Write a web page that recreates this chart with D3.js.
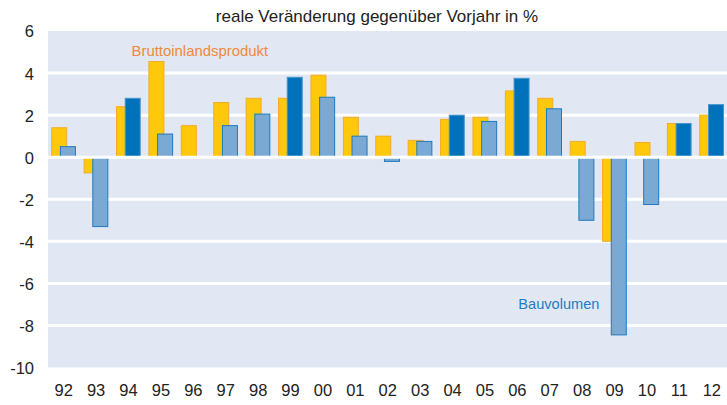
<!DOCTYPE html>
<html>
<head>
<meta charset="utf-8">
<script src="https://cdn.jsdelivr.net/npm/d3@7"></script>
<style>
  html, body { margin: 0; padding: 0; background: #fff; }
  svg { display: block; font-family: "Liberation Sans", Arial, sans-serif; }
</style>
</head>
<body>
<svg id="chart" width="727" height="405"></svg>
<script>
const years = ["92","93","94","95","96","97","98","99","00","01","02","03","04","05","06","07","08","09","10","11","12"];
const bip   = [1.4,-0.75,2.4,4.55,1.5,2.6,2.8,2.8,3.9,1.9,1.0,0.8,1.8,1.9,3.15,2.8,0.75,-4.0,0.7,1.6,2.0];
const bau   = [0.5,-3.3,2.8,1.1,null,1.5,2.05,3.8,2.85,1.0,-0.2,0.75,2.0,1.7,3.75,2.3,-3.0,-8.45,-2.25,1.6,2.5];
const yTicks = [6,4,2,0,-2,-4,-6,-8,-10];
const title = "reale Veränderung gegenüber Vorjahr in %";
const labelBip = "Bruttoinlandsprodukt";
const labelBau = "Bauvolumen";

const svg = d3.select("#chart");
const mLeft = 47.5, mRight = 728, mTop = 31, mBottom = 367.5;

const x = d3.scaleBand().domain(years).range([mLeft, mRight]).padding(0);
const y = d3.scaleLinear().domain([-10, 6]).range([mBottom, mTop]);
const bw = x.bandwidth();

// background
svg.append("rect").attr("x", 48).attr("y", mTop).attr("width", 727 - 48).attr("height", mBottom - mTop).attr("fill", "#e1e8f3");

// gridlines
svg.append("g").selectAll("line").data(yTicks.filter(d => d !== 6 && d !== -10 && d !== 0)).join("line")
  .attr("x1", 48).attr("x2", 727)
  .attr("y1", d => y(d)).attr("y2", d => y(d))
  .attr("stroke", "#fff").attr("stroke-width", 3);

const data = years.map((yr, i) => ({ yr, bip: bip[i], bau: bau[i] }));

// BIP bars (yellow)
svg.append("g").selectAll("rect").data(data.filter(d => d.bip != null)).join("rect")
  .attr("x", d => x(d.yr) + bw * 0.5 - 12)
  .attr("width", 15)
  .attr("y", d => y(Math.max(0, d.bip)))
  .attr("height", d => Math.abs(y(d.bip) - y(0)))
  .attr("fill", "#ffc80a")
  .attr("stroke", "#f5ab2a").attr("stroke-width", 1);

// Bau bars (blue)
svg.append("g").selectAll("rect").data(data.filter(d => d.bau != null)).join("rect")
  .attr("x", d => x(d.yr) + bw * 0.5 - 3.3)
  .attr("width", 15)
  .attr("y", d => y(Math.max(0, d.bau)))
  .attr("height", d => Math.abs(y(d.bau) - y(0)))
  .attr("fill", d => d.bau >= d.bip ? "#0072bb" : "#7aaad4")
  .attr("stroke", d => d.bau >= d.bip ? "#4a93cc" : "#1f78c0").attr("stroke-width", 1);

// zero line on top
svg.append("line").attr("x1", 48).attr("x2", 727).attr("y1", y(0)).attr("y2", y(0))
  .attr("stroke", "#fff").attr("stroke-width", 3);

// y axis labels
const yAxis = d3.axisLeft(y).tickValues(yTicks).tickSize(0).tickPadding(0).tickFormat(d => String(d));
const gy = svg.append("g").attr("transform", "translate(34,0)").call(yAxis);
gy.select(".domain").remove();
gy.selectAll("text").attr("font-size", "16.5px").attr("fill", "#222").attr("font-family", "Liberation Sans, Arial, sans-serif").attr("dy", "0.36em");

// x axis labels
const xAxis = d3.axisBottom(x).tickSize(0).tickPadding(0);
const gx = svg.append("g").attr("transform", "translate(0,384)").call(xAxis);
gx.select(".domain").remove();
gx.selectAll("text").attr("font-size", "16.5px").attr("fill", "#222").attr("font-family", "Liberation Sans, Arial, sans-serif").attr("dy", "0.71em");

// title
svg.append("text").attr("x", 377).attr("y", 22).attr("text-anchor", "middle")
  .attr("font-size", "17px").attr("fill", "#222").text(title);

// series labels
svg.append("text").attr("x", 131.5).attr("y", 56).attr("font-size", "14.9px").attr("fill", "#f0893a").text(labelBip);
svg.append("text").attr("x", 518.3).attr("y", 309).attr("font-size", "14.6px").attr("fill", "#1f7bc2").text(labelBau);
</script>
</body>
</html>
